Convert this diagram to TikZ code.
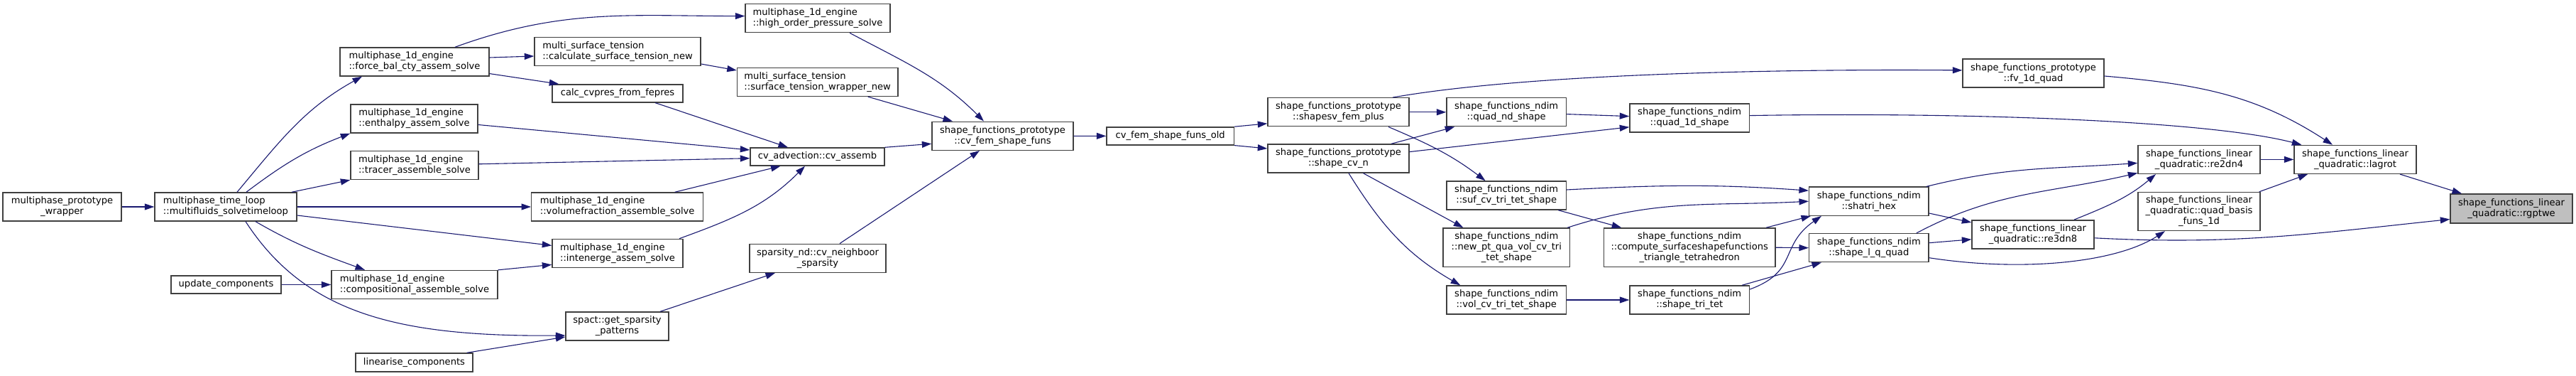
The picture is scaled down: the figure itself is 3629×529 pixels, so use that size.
\documentclass[tikz,border=0pt]{standalone}
\usepackage{fontspec}
\setmainfont{DejaVu Sans}
\usepackage{xcolor}
\usepackage{tikz}
\usetikzlibrary{arrows.meta}
\definecolor{callblue}{HTML}{191970}
\definecolor{boxgray}{HTML}{404040}
\definecolor{hitgray}{HTML}{BFBFBF}

\begin{document}
\begin{tikzpicture}[x=1pt, y=1pt, >={Triangle[length=13.5pt,width=9pt]},
  every node/.style={font=\fontsize{13.1}{15}\selectfont, align=center},
  fn/.style={draw=boxgray, line width=1.4pt, inner sep=0pt, minimum height=40pt},
  fnl/.style={fn, align=left},
  call/.style={->, callblue, line width=1.1pt}]
  \useasboundingbox (0,0) rectangle (3629,-529);

  \node[fn, minimum width=167pt] (wrap) at (87.5,-291) {multiphase\_prototype\\\_wrapper};
  \node[fnl, minimum width=200pt] (loop) at (318,-291) {multiphase\_time\_loop\\::multifluids\_solvetimeloop};
  \node[fn, minimum width=155pt, minimum height=25pt] (upd) at (318.5,-400.5) {update\_components};
  \node[fnl, minimum width=210pt] (force) at (584,-87) {multiphase\_1d\_engine\\::force\_bal\_cty\_assem\_solve};
  \node[fnl, minimum width=179pt] (enth) at (583.5,-167) {multiphase\_1d\_engine\\::enthalpy\_assem\_solve};
  \node[fnl, minimum width=180pt] (tracer) at (584,-232.5) {multiphase\_1d\_engine\\::tracer\_assemble\_solve};
  \node[fnl, minimum width=234pt] (comp) at (584,-400.5) {multiphase\_1d\_engine\\::compositional\_assemble\_solve};
  \node[fn, minimum width=165pt, minimum height=26pt] (linc) at (583.5,-510) {linearise\_components};
  \node[fnl, minimum width=204pt] (hops) at (1152,-25.6) {multiphase\_1d\_engine\\::high\_order\_pressure\_solve};
  \node[fnl, minimum width=234pt] (calcst) at (870,-72.5) {multi\_surface\_tension\\::calculate\_surface\_tension\_new};
  \node[fnl, minimum width=226.5pt] (stwrap) at (1151.7,-115.4) {multi\_surface\_tension\\::surface\_tension\_wrapper\_new};
  \node[fn, minimum width=184pt, minimum height=25pt] (cvpres) at (870,-131.4) {calc\_cvpres\_from\_fepres};
  \node[fn, minimum width=189pt, minimum height=25pt] (cvassemb) at (1151.5,-220.5) {cv\_advection::cv\_assemb};
  \node[fnl, minimum width=242pt] (volfrac) at (869.7,-291) {multiphase\_1d\_engine\\::volumefraction\_assemble\_solve};
  \node[fnl, minimum width=184pt] (intener) at (870,-356.4) {multiphase\_1d\_engine\\::intenerge\_assem\_solve};
  \node[fn, minimum width=192pt] (cvneigh) at (1152,-363.3) {sparsity\_nd::cv\_neighboor\\\_sparsity};
  \node[fn, minimum width=145pt] (spact) at (869.5,-459) {spact::get\_sparsity\\\_patterns};
  \node[fn, minimum width=199pt] (cvfem) at (1412.5,-191.3) {shape\_functions\_prototype\\::cv\_fem\_shape\_funs};
  \node[fn, minimum width=179.5pt, minimum height=25pt] (cvfemold) at (1648.7,-191.4) {cv\_fem\_shape\_funs\_old};
  \node[fn, minimum width=199pt] (shapesv) at (1885.5,-157.8) {shape\_functions\_prototype\\::shapesv\_fem\_plus};
  \node[fn, minimum width=199pt] (shapecvn) at (1885.5,-223) {shape\_functions\_prototype\\::shape\_cv\_n};
  \node[fn, minimum width=168.5pt] (quadnd) at (2122.2,-157.8) {shape\_functions\_ndim\\::quad\_nd\_shape};
  \node[fn, minimum width=168.5pt] (quad1d) at (2380.2,-166) {shape\_functions\_ndim\\::quad\_1d\_shape};
  \node[fn, minimum width=168.5pt] (sufcv) at (2122.2,-275) {shape\_functions\_ndim\\::suf\_cv\_tri\_tet\_shape};
  \node[fn, minimum width=178.6pt, minimum height=54.5pt] (newpt) at (2122.3,-348.2) {shape\_functions\_ndim\\::new\_pt\_qua\_vol\_cv\_tri\\\_tet\_shape};
  \node[fn, minimum width=241.5pt, minimum height=54.5pt] (compsurf) at (2380.2,-348.2) {shape\_functions\_ndim\\::compute\_surfaceshapefunctions\\\_triangle\_tetrahedron};
  \node[fn, minimum width=168.5pt] (volcv) at (2122.2,-422) {shape\_functions\_ndim\\::vol\_cv\_tri\_tet\_shape};
  \node[fn, minimum width=168.5pt] (shapetri) at (2380.2,-422) {shape\_functions\_ndim\\::shape\_tri\_tet};
  \node[fn, minimum width=199pt] (fv1d) at (2864.5,-103.2) {shape\_functions\_prototype\\::fv\_1d\_quad};
  \node[fn, minimum width=168.3pt] (shatri) at (2632.8,-283.2) {shape\_functions\_ndim\\::shatri\_hex};
  \node[fn, minimum width=168.3pt] (shapelq) at (2632.8,-348.7) {shape\_functions\_ndim\\::shape\_l\_q\_quad};
  \node[fn, minimum width=172pt] (re3dn8) at (2864,-329.8) {shape\_functions\_linear\\\_quadratic::re3dn8};
  \node[fn, minimum width=172pt] (re2dn4) at (3098,-224.4) {shape\_functions\_linear\\\_quadratic::re2dn4};
  \node[fn, minimum width=172pt, minimum height=54pt] (qbasis) at (3098,-297.5) {shape\_functions\_linear\\\_quadratic::quad\_basis\\\_funs\_1d};
  \node[fn, minimum width=172pt] (lagrot) at (3318,-224.4) {shape\_functions\_linear\\\_quadratic::lagrot};
  \node[fn, fill=hitgray, minimum width=172pt, minimum height=41pt] (rgptwe) at (3538,-293.5) {shape\_functions\_linear\\\_quadratic::rgptwe};

  % time loop and its callers
  \draw[call] (wrap) -- (loop);
  \draw[call] ([xshift=16pt]loop.north) to[out=50,in=209] ([xshift=-74pt]force.south);
  \draw[call] ([xshift=29pt]loop.north) to[out=37,in=201] (enth.south west);
  \draw[call] ([xshift=93pt]loop.north) -- (tracer.south west);
  \draw[call] (loop) -- (volfrac);
  \draw[call] ([yshift=-12pt]loop.east) -- ([yshift=11pt]intener.west);
  \draw[call] ([xshift=42pt]loop.south) to[out=-30,in=160] ([xshift=-70pt]comp.north);
  \draw[call] ([xshift=28pt]loop.south) .. controls +(84,-129) and +(-237,-2) .. ([yshift=-13pt]spact.west);
  \draw[call] (upd) -- (comp);
  \draw[call] ([xshift=-9pt]linc.north east) -- ([yshift=-15pt]spact.west);
  \draw[call] (comp.north east) -- ([yshift=-16pt]intener.west);

  % assembly routines
  \draw[call] ([xshift=57pt]force.north) to[out=20,in=180] ([yshift=3pt]hops.west);
  \draw[call] ([yshift=6pt]force.east) -- ([yshift=-6.5pt]calcst.west);
  \draw[call] ([yshift=-16.6pt]force.east) -- ([xshift=10pt]cvpres.north west);
  \draw[call] ([yshift=-17.5pt]calcst.east) -- ([yshift=16.4pt]stwrap.west);
  \draw[call] ([yshift=-8.5pt]enth.east) -- ([yshift=9.5pt]cvassemb.west);
  \draw[call] ([yshift=1.7pt]tracer.east) -- ([yshift=-2.2pt]cvassemb.west);
  \draw[call] ([xshift=53pt]cvpres.south) -- ([xshift=-41.5pt]cvassemb.north);
  \draw[call] ([xshift=81pt]volfrac.north) -- ([xshift=-52pt]cvassemb.south);
  \draw[call] ([xshift=87pt]intener.north) to[out=20,in=225] ([xshift=-17.5pt]cvassemb.south);
  \draw[call] ([xshift=60.5pt]spact.north) -- ([xshift=-60pt]cvneigh.south);

  % shape function setup
  \draw[call] ([xshift=45pt]hops.south) to[out=-28,in=135] ([xshift=-26.5pt]cvfem.north);
  \draw[call] ([xshift=71pt]stwrap.south) -- ([xshift=-70.5pt]cvfem.north);
  \draw[call] (cvassemb.north east) -- ([yshift=-11pt]cvfem.west);
  \draw[call] ([xshift=31pt]cvneigh.north) -- ([xshift=-32.5pt]cvfem.south);
  \draw[call] (cvfem) -- (cvfemold);
  \draw[call] (cvfemold.north east) -- ([yshift=-16pt]shapesv.west);
  \draw[call] (cvfemold.south east) -- ([yshift=14pt]shapecvn.west);
  \draw[call] (shapesv) -- (quadnd);
  \draw[call] ([xshift=76.5pt]shapesv.north) .. controls +(188,33) and +(-265,2) .. ([yshift=4.3pt]fv1d.west);
  \draw[call] ([xshift=70.5pt]shapesv.south) to[out=-23,in=143] ([xshift=-29.6pt]sufcv.north);
  \draw[call] ([xshift=74.5pt]shapecvn.north) -- ([xshift=-73pt]quadnd.south);
  \draw[call] ([yshift=9.4pt]shapecvn.east) -- ([yshift=-12.8pt]quad1d.west);
  \draw[call] ([xshift=35pt]shapecvn.south) -- ([xshift=-61pt]newpt.north);
  \draw[call] ([xshift=14.5pt]shapecvn.south) to[out=-58,in=150] ([xshift=-65pt]volcv.north);

  % ndim routines
  \draw[call] ([yshift=-2.8pt]quadnd.east) -- ([yshift=2.4pt]quad1d.west);
  \draw[call] ([xshift=73pt]sufcv.south) -- ([xshift=-96pt]compsurf.north);
  \draw[call] ([yshift=8pt]sufcv.east) to[out=3,in=176] ([yshift=15pt]shatri.west);
  \draw[call] ([xshift=-4pt]newpt.north east) to[out=18,in=183] (shatri.west);
  \draw[call] ([xshift=108pt]compsurf.north) -- ([xshift=3pt]shatri.south west);
  \draw[call] (compsurf.east) -- (shapelq.west);
  \draw[call] (volcv) -- (shapetri);
  \draw[call] ([xshift=-11pt]shapetri.north east) -- ([xshift=18pt]shapelq.south west);
  \draw[call] ([yshift=15pt]shapetri.east) to[out=20,in=215,looseness=1.3] ([xshift=18pt]shatri.south west);

  % linear quadratic routines
  \draw[call] ([yshift=3.4pt]quad1d.east) .. controls +(285,5) and +(-135,35) .. ([xshift=11pt]lagrot.north west);
  \draw[call] ([yshift=-3.8pt]fv1d.east) to[out=-5,in=147] ([xshift=-32pt]lagrot.north);
  \draw[call] ([yshift=-16.8pt]shatri.east) -- ([yshift=16.8pt]re3dn8.west);
  \draw[call] ([xshift=-4pt]shatri.north east) to[out=14,in=184] ([yshift=-5pt]re2dn4.west);
  \draw[call] ([yshift=7pt]shapelq.east) -- ([yshift=-7pt]re3dn8.west);
  \draw[call] ([xshift=67pt]shapelq.north) to[out=28,in=193] ([yshift=-19pt]re2dn4.west);
  \draw[call] ([yshift=-14pt]shapelq.east) .. controls +(130,-20) and +(-70,-45) .. ([xshift=-48pt]qbasis.south);
  \draw[call] ([xshift=58pt]re3dn8.north) to[out=22,in=220] ([xshift=-61pt]re2dn4.south);
  \draw[call] ([yshift=-5pt]re3dn8.east) to[out=-3,in=186] ([yshift=-15pt]rgptwe.west);
  \draw[call] (re2dn4) -- (lagrot);
  \draw[call] ([xshift=-2pt]qbasis.north east) -- ([xshift=-67pt]lagrot.south);
  \draw[call] ([xshift=63pt]lagrot.south) -- ([xshift=-70pt]rgptwe.north);
\end{tikzpicture}
\end{document}
